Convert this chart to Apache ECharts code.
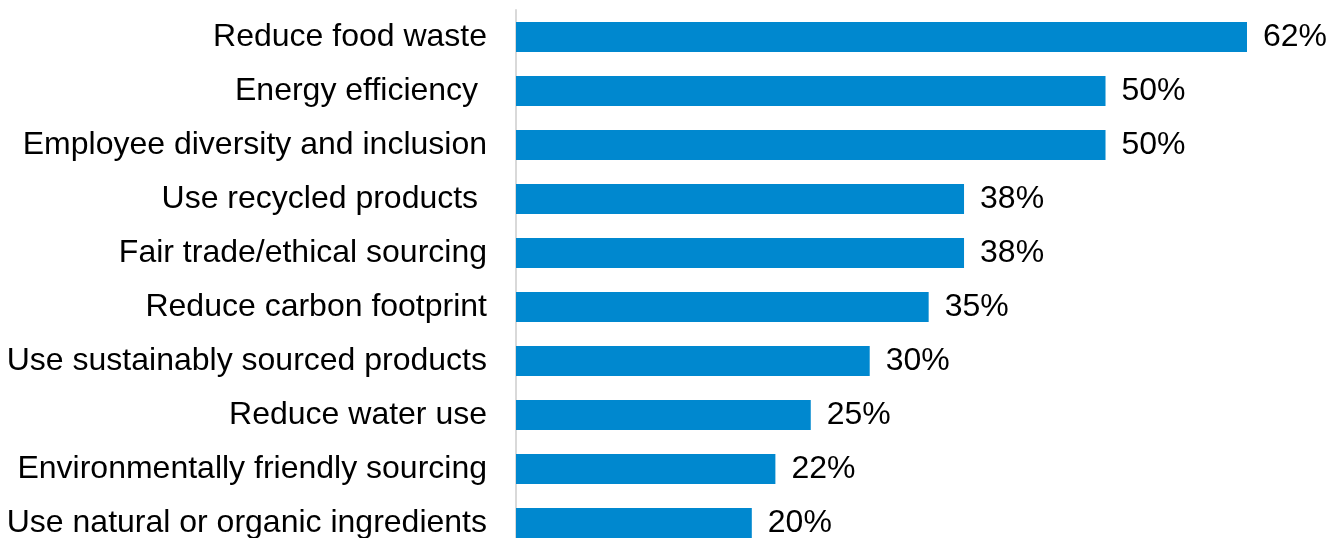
<!DOCTYPE html>
<html>
<head>
<meta charset="utf-8">
<script src="https://cdn.jsdelivr.net/npm/echarts@6/dist/echarts.min.js"></script>
<style>
  html, body { margin: 0; padding: 0; background: #ffffff; }
  #chart { width: 1343px; height: 538px; }
</style>
</head>
<body>
<div id="chart"></div>
<script>
// Sustainability initiatives, share of respondents (%)
const categories = [
  'Reduce food waste',
  'Energy efficiency ',
  'Employee diversity and inclusion',
  'Use recycled products ',
  'Fair trade/ethical sourcing',
  'Reduce carbon footprint',
  'Use sustainably sourced products',
  'Reduce water use',
  'Environmentally friendly sourcing',
  'Use natural or organic ingredients'
];
const values = [62, 50, 50, 38, 38, 35, 30, 25, 22, 20];

const chart = echarts.init(document.getElementById('chart'), null, { renderer: 'canvas' });

chart.setOption({
  animation: false,
  backgroundColor: '#ffffff',
  textStyle: { fontFamily: 'Liberation Sans, Arial, sans-serif' },
  // the plot runs a little past the bottom edge, so the last row is clipped
  grid: { left: 516, top: 10, width: 731, height: 540, outerBoundsMode: 'none', containLabel: false },
  xAxis: {
    type: 'value',
    min: 0,
    max: 62,
    show: false
  },
  yAxis: {
    type: 'category',
    data: categories,
    inverse: true,
    offset: 2,
    axisLine: { show: true, lineStyle: { color: '#d9d9d9', width: 2 } },
    axisTick: { show: false },
    splitLine: { show: false },
    axisLabel: {
      color: '#000000',
      fontSize: 32,
      margin: 27,
      fontFamily: 'Liberation Sans, Arial, sans-serif'
    }
  },
  series: [{
    type: 'bar',
    data: values,
    barWidth: 30,
    itemStyle: { color: '#0088cf' },
    label: {
      show: true,
      position: 'right',
      distance: 16,
      color: '#000000',
      fontSize: 32,
      fontFamily: 'Liberation Sans, Arial, sans-serif',
      formatter: p => p.value + '%'
    }
  }]
});
</script>
</body>
</html>
